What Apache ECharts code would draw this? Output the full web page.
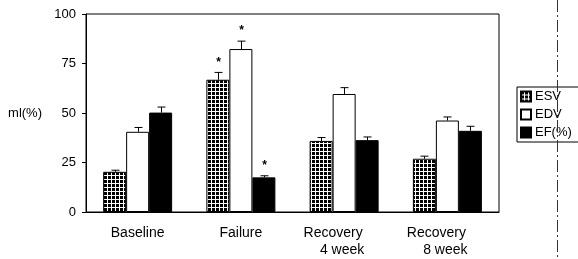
<!DOCTYPE html>
<html>
<head>
<meta charset="utf-8">
<script src="https://cdn.jsdelivr.net/npm/echarts@6/dist/echarts.min.js"></script>
<style>
  html, body { margin: 0; padding: 0; background: #fff; }
  #chart { width: 578px; height: 259px; }
</style>
</head>
<body>
<div id="chart"></div>
<script>
// data
var categories = ['Baseline', 'Failure', 'Recovery\n4 week', 'Recovery\n8 week']
var esv = [20.3, 66.8, 35.9, 26.9]
var esvErr = [0.8, 3.7, 1.7, 1.3]
var esvSig = [0, 1, 0, 0]
var edv = [40.5, 82.3, 59.6, 46.2]
var edvErr = [2.2, 4.0, 3.2, 1.8]
var edvSig = [0, 1, 0, 0]
var ef = [50.2, 17.5, 36.3, 41.0]
var efErr = [2.8, 0.8, 1.6, 2.3]
var efSig = [0, 1, 0, 0]
var yMin = 0
var yMax = 100
var yStep = 25

var BAR_W = 23
var FONT = 'Liberation Sans, Arial, sans-serif'

// dotted fill for ESV
function makePattern() {
  var c = document.createElement('canvas')
  c.width = 4
  c.height = 4
  var ctx = c.getContext('2d')
  ctx.fillStyle = '#fff'
  ctx.fillRect(0, 0, 4, 4)
  ctx.fillStyle = '#000'
  ctx.fillRect(0, 0, 3, 3)
  return c
}
var dots = { image: makePattern(), repeat: 'repeat' }

// error bar (upper cap only) + asterisk
function errSeries(idx, vals, errs, sig) {
  var data = vals.map(function (v, i) {
    return [i, v, errs[i], sig[i]]
  })
  return {
    type: 'custom',
    data: data,
    silent: true,
    z: 5,
    renderItem: function (params, api) {
      var c = api.coord([api.value(0), api.value(1)])
      var t = api.coord([api.value(0), api.value(1) + api.value(2)])
      var x = Math.round(c[0] + (idx - 1) * BAR_W) + 0.5
      var kids = [
        { type: 'line', shape: { x1: x, y1: c[1], x2: x, y2: t[1] }, style: { stroke: '#000', lineWidth: 1 } },
        { type: 'line', shape: { x1: x - 4, y1: t[1], x2: x + 4, y2: t[1] }, style: { stroke: '#000', lineWidth: 1 } }
      ]
      if (api.value(3)) {
        kids.push({
          type: 'text',
          style: { text: '*', x: x, y: t[1] - 4, align: 'center', verticalAlign: 'bottom', fill: '#000', font: 'bold 12px ' + FONT }
        })
      }
      return { type: 'group', children: kids }
    }
  }
}

var chart = echarts.init(document.getElementById('chart'))
chart.setOption({
  animation: false,
  grid: {
    left: 86,
    right: 79,
    top: 14,
    bottom: 47,
    containLabel: false,
    outerBoundsMode: 'none',
    show: true,
    borderColor: '#000',
    borderWidth: 1
  },
  legend: {
    orient: 'vertical',
    left: 517,
    top: 87,
    icon: 'rect',
    itemWidth: 10,
    itemHeight: 10,
    itemGap: 5,
    padding: [3, 30, 3, 3],
    borderColor: '#000',
    borderWidth: 1,
    textStyle: { fontFamily: FONT, fontSize: 13, color: '#000', padding: [0, 0, 0, -1] },
    data: ['ESV', 'EDV', 'EF(%)']
  },
  xAxis: {
    type: 'category',
    data: categories,
    axisLine: { lineStyle: { color: '#000' } },
    axisTick: { inside: true, length: 4, lineStyle: { color: '#000' } },
    axisLabel: {
      interval: 0,
      margin: 13,
      color: '#000',
      fontFamily: FONT,
      fontSize: 14,
      lineHeight: 17,
      formatter: function (v) {
        var p = v.split('\n')
        if (p.length < 2) return v
        return '{a|' + p[0] + '}\n{b|' + p[1] + '}'
      },
      rich: {
        a: { fontFamily: FONT, fontSize: 14, color: '#000', padding: [0, 22, 0, 0] },
        b: { fontFamily: FONT, fontSize: 14, color: '#000', padding: [0, 4, 0, 0] }
      }
    }
  },
  yAxis: {
    type: 'value',
    min: yMin,
    max: yMax,
    interval: yStep,
    name: 'ml(%)',
    nameLocation: 'middle',
    nameRotate: 0,
    nameGap: 44,
    nameTextStyle: { fontFamily: FONT, fontSize: 13, color: '#000', align: 'right' },
    splitLine: { show: false },
    axisLine: { show: true, lineStyle: { color: '#000' } },
    axisTick: { show: true, length: 4, lineStyle: { color: '#000' } },
    axisLabel: { margin: 10, color: '#000', fontFamily: FONT, fontSize: 13 }
  },
  series: [
    {
      name: 'ESV',
      type: 'bar',
      barWidth: BAR_W,
      barGap: '0%',
      data: esv,
      itemStyle: { color: dots, borderColor: '#000', borderWidth: 1 }
    },
    {
      name: 'EDV',
      type: 'bar',
      barWidth: BAR_W,
      barGap: '0%',
      data: edv,
      itemStyle: { color: '#fff', borderColor: '#000', borderWidth: 1 }
    },
    {
      name: 'EF(%)',
      type: 'bar',
      barWidth: BAR_W,
      barGap: '0%',
      data: ef,
      itemStyle: { color: '#000', borderColor: '#000', borderWidth: 1 }
    },
    errSeries(0, esv, esvErr, esvSig),
    errSeries(1, edv, edvErr, edvSig),
    errSeries(2, ef, efErr, efSig)
  ],
  graphic: [
    {
      type: 'line',
      z: 100,
      shape: { x1: 557.5, y1: 0, x2: 557.5, y2: 259 },
      style: { stroke: '#333', lineWidth: 1, lineDash: [12, 3, 2, 3] }
    }
  ]
})
</script>
</body>
</html>
